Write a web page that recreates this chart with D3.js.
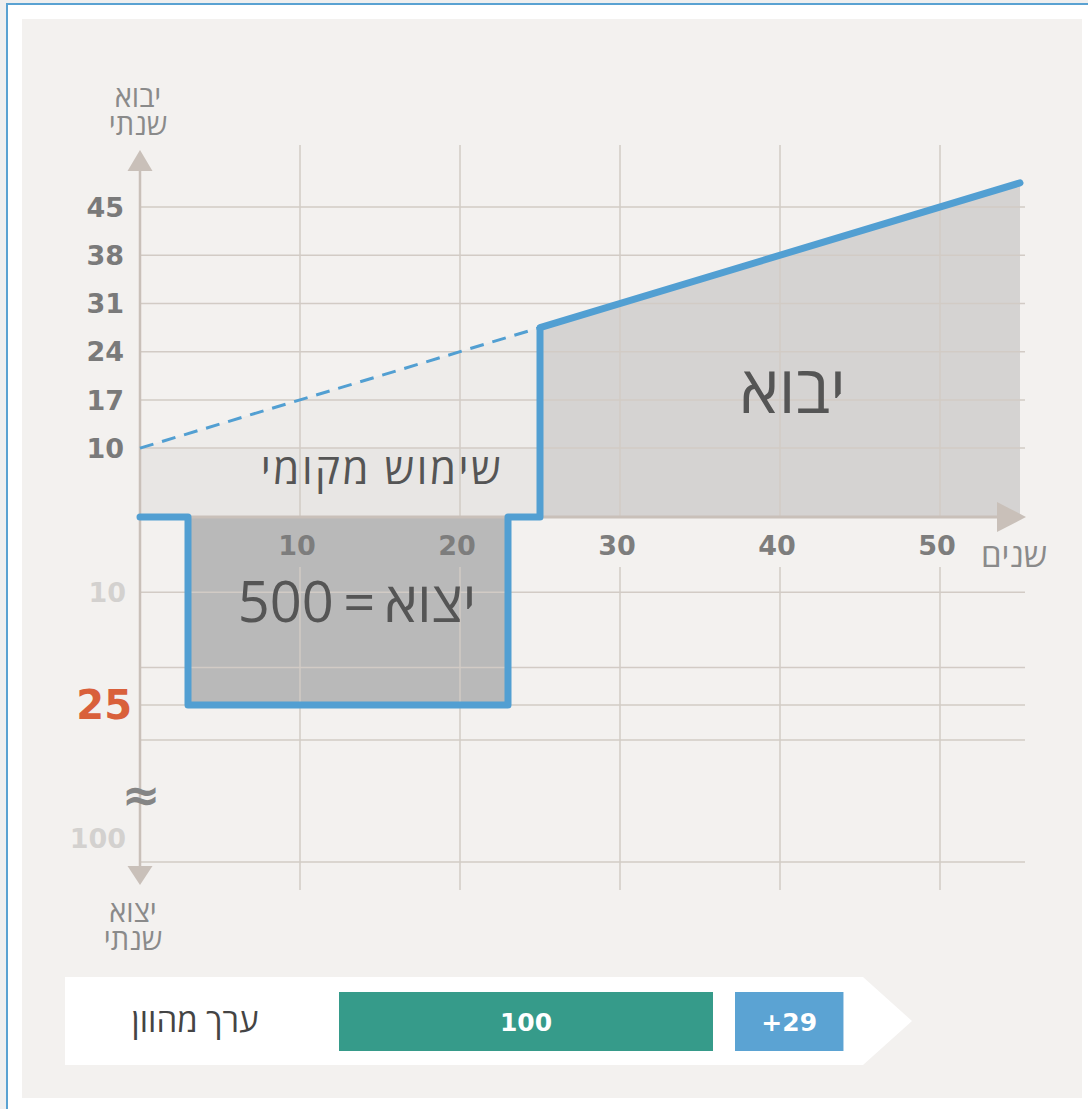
<!DOCTYPE html>
<html lang="he">
<head>
<meta charset="utf-8">
<script src="https://cdn.jsdelivr.net/npm/d3@7"></script>
<style>
  html, body { margin: 0; padding: 0; background: #efefef; }
  svg { display: block; }
  .heb { font-family: "Open Sans", "DejaVu Sans", sans-serif; }
  .num { font-family: "DejaVu Sans", sans-serif; font-weight: bold; }
</style>
</head>
<body>
<svg id="chart" width="1088" height="1109"></svg>
<script>
// ---- data ----
const yearTicks = [10, 20, 30, 40, 50];
const importTicks = [10, 17, 24, 31, 38, 45];
const exportTicks = [10, 25, 100];
const exportGrid = [10, 20, 25, 30, 100];
// annual import value along the years (dashed before the switch, solid after)
const localUse = [{ t: 0, v: 10 }, { t: 25, v: 27.5 }];
const importLine = [{ t: 25, v: 27.5 }, { t: 55, v: 48.5 }];
// annual export block: years 3..23 at 25 a year (total 500)
const exportBlock = { start: 3, end: 23, value: 25 };
const switchYear = 25;
// discounted value bar
const valueBars = [
  { label: "100", value: 100, color: "#369b8a" },
  { label: "+29", value: 29, color: "#5ba3d3" }
];

// ---- layout ----
const svg = d3.select("#chart");
const x = d3.scaleLinear().domain([0, 55]).range([140, 1020]);
const yUp = d3.scaleLinear().domain([0, 45]).range([517, 207]);
const yDown = d3.scaleLinear().domain([0, 25, 30, 100]).range([517, 705, 740, 862]);

const gridColor = "#d2cbc5";
const axisColor = "#c9c0b9";
const blue = "#529fd2";

// page frame
svg.append("rect").attr("x", 6).attr("y", 3).attr("width", 1082).attr("height", 1106).attr("fill", "#ffffff");
svg.append("line").attr("x1", 7).attr("x2", 7).attr("y1", 3).attr("y2", 1109).attr("stroke", "#5aa2d2").attr("stroke-width", 2);
svg.append("line").attr("x1", 6).attr("x2", 1088).attr("y1", 4).attr("y2", 4).attr("stroke", "#5aa2d2").attr("stroke-width", 2);
svg.append("rect").attr("x", 22).attr("y", 19).attr("width", 1060).attr("height", 1079).attr("fill", "#f3f1ef");

const g = svg.append("g");

// ---- area fills ----
const base = localUse[0].v;
g.append("path").datum(localUse)
  .attr("d", d3.area().x(d => x(d.t)).y0(yUp(base)).y1(d => yUp(d.v)))
  .attr("fill", "#eeecea");
g.append("rect")
  .attr("x", x(0)).attr("y", yUp(base))
  .attr("width", x(switchYear) - x(0)).attr("height", yUp(0) - yUp(base))
  .attr("fill", "#e8e6e4");
g.append("path").datum(importLine)
  .attr("d", d3.area().x(d => x(d.t)).y0(yUp(0)).y1(d => yUp(d.v)))
  .attr("fill", "#d5d3d2");
g.append("rect")
  .attr("x", x(exportBlock.start)).attr("y", yDown(0))
  .attr("width", x(exportBlock.end) - x(exportBlock.start))
  .attr("height", yDown(exportBlock.value) - yDown(0))
  .attr("fill", "#b9b9b9");

// ---- grid ----
const gridRight = 1025;
g.append("g").selectAll("line").data(importTicks).join("line")
  .attr("x1", x(0)).attr("x2", gridRight)
  .attr("y1", d => yUp(d)).attr("y2", d => yUp(d))
  .attr("stroke", gridColor).attr("stroke-width", 1.5);
g.append("g").selectAll("line").data(exportGrid).join("line")
  .attr("x1", x(0)).attr("x2", gridRight)
  .attr("y1", d => yDown(d)).attr("y2", d => yDown(d))
  .attr("stroke", gridColor).attr("stroke-width", 1.5);
g.append("g").selectAll("line").data(yearTicks).join("line")
  .attr("x1", d => x(d)).attr("x2", d => x(d))
  .attr("y1", yUp(54)).attr("y2", yUp(0))
  .attr("stroke", gridColor).attr("stroke-width", 1.5);
g.append("g").selectAll("line").data(yearTicks).join("line")
  .attr("x1", d => x(d)).attr("x2", d => x(d))
  .attr("y1", 567).attr("y2", 890)
  .attr("stroke", gridColor).attr("stroke-width", 1.5);

// ---- axes ----
g.append("line").attr("x1", x(0)).attr("x2", x(0)).attr("y1", 165).attr("y2", 870)
  .attr("stroke", axisColor).attr("stroke-width", 2.5);
g.append("path").attr("d", "M140,150L152.5,171L127.5,171Z").attr("fill", axisColor);
g.append("path").attr("d", "M140,885L152.5,866L127.5,866Z").attr("fill", axisColor);
g.append("line").attr("x1", x(0)).attr("x2", 1000).attr("y1", yUp(0)).attr("y2", yUp(0))
  .attr("stroke", axisColor).attr("stroke-width", 3);
g.append("path").attr("d", "M1026,517L997,502L997,532Z").attr("fill", axisColor);

// ---- value path ----
g.append("path").datum(localUse)
  .attr("d", d3.line().x(d => x(d.t)).y(d => yUp(d.v)))
  .attr("fill", "none").attr("stroke", blue).attr("stroke-width", 3)
  .attr("stroke-dasharray", "14 9");
const flow = [
  { t: 0, y: yUp(0) },
  { t: exportBlock.start, y: yUp(0) },
  { t: exportBlock.start, y: yDown(exportBlock.value) },
  { t: exportBlock.end, y: yDown(exportBlock.value) },
  { t: exportBlock.end, y: yUp(0) },
  { t: switchYear, y: yUp(0) },
  ...importLine.map(d => ({ t: d.t, y: yUp(d.v) }))
];
g.append("path").datum(flow).attr("d", d3.line().x(d => x(d.t)).y(d => d.y))
  .attr("fill", "none").attr("stroke", blue).attr("stroke-width", 7)
  .attr("stroke-linejoin", "round").attr("stroke-linecap", "round");

// ---- tick labels ----
g.append("g").selectAll("text").data(importTicks).join("text")
  .attr("class", "num").attr("x", 124).attr("y", d => yUp(d))
  .attr("dy", "0.36em").attr("text-anchor", "end")
  .attr("font-size", 27).attr("fill", "#7a7a7a").text(d => d);
g.append("g").selectAll("text").data(exportTicks).join("text")
  .attr("class", "num").attr("x", d => d === 25 ? 132 : 126).attr("y", d => yDown(d) + (d === 100 ? -24 : 0))
  .attr("dy", "0.36em").attr("text-anchor", "end")
  .attr("font-size", d => d === 25 ? 40 : 27)
  .attr("fill", d => d === 25 ? "#d9603b" : "#d3d1cf").text(d => d);
g.append("g").selectAll("text").data(yearTicks).join("text")
  .attr("class", "num").attr("x", d => x(d) - 3).attr("y", 545)
  .attr("dy", "0.36em").attr("text-anchor", "middle")
  .attr("font-size", 27).attr("fill", "#7d7d7d").text(d => d);

// axis break mark
g.append("text").attr("class", "num").attr("x", 141).attr("y", 794).attr("dy", "0.36em")
  .attr("text-anchor", "middle").attr("font-size", 46).attr("font-weight", "normal")
  .attr("fill", "#858585").text("≈");

// ---- titles ----
const heb = (sel, tx, ty, size, color, str) => sel.append("text").attr("class", "heb")
  .attr("x", tx).attr("y", ty).attr("text-anchor", "middle").attr("direction", "rtl")
  .attr("font-size", size).attr("fill", color).text(str);
const stacked = (sel, tx, ty, size, color, lines) => {
  const t = sel.append("text").attr("class", "heb").attr("text-anchor", "middle")
    .attr("direction", "rtl").attr("font-size", size).attr("fill", color);
  lines.forEach((s, i) => t.append("tspan").attr("x", tx).attr("y", ty + i * 28).text(s));
};
stacked(g, 138, 107, 29, "#8a8a8a", ["יבוא", "שנתי"]);
stacked(g, 133, 922, 29, "#8a8a8a", ["יצוא", "שנתי"]);
heb(g, 1014, 567, 33, "#8a8a8a", "שנים");
heb(g, 793, 413, 66, "#555555", "יבוא");
heb(g, 382, 484, 42, "#555555", "שימוש מקומי").attr("letter-spacing", 2.5);
heb(g, 357, 622, 56, "#555555", "יצוא\u2009=\u2009500");

// ---- discounted value banner ----
const banner = svg.append("g");
banner.append("path").attr("d", "M65,977L863,977L912,1021L863,1065L65,1065Z").attr("fill", "#ffffff");
const bx = d3.scaleLinear().domain([0, 100]).range([339, 713]);
let cursor = 0;
valueBars.forEach((b, i) => {
  const x0 = bx(cursor) + i * 22;
  const w = bx(b.value) - bx(0);
  banner.append("rect").attr("x", x0).attr("y", 992).attr("width", w).attr("height", 59).attr("fill", b.color);
  banner.append("text").attr("class", "num").attr("x", x0 + w / 2).attr("y", 1022).attr("dy", "0.36em")
    .attr("text-anchor", "middle").attr("font-size", 25).attr("fill", "#ffffff").text(b.label);
  cursor += b.value;
});
heb(banner, 195, 1032, 33, "#444444", "ערך מהוון");
</script>
</body>
</html>
